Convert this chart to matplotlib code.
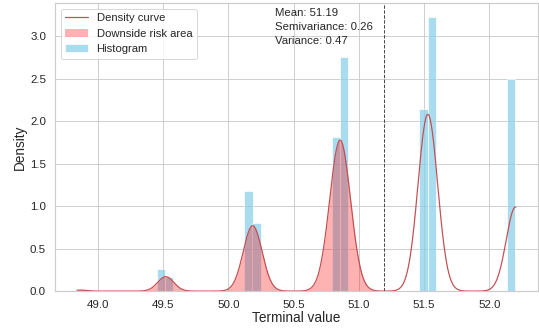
import numpy as np
import matplotlib
matplotlib.use("Agg")
import matplotlib.pyplot as plt
import seaborn as sns

# histogram bars (bin centers and density heights)
bin_centers = [48.878, 49.484, 49.545, 50.155, 50.216, 50.823, 50.886, 51.494, 51.559, 52.166]
bin_heights = [0.03, 0.255, 0.17, 1.18, 0.80, 1.815, 2.755, 2.148, 3.228, 2.50]
bin_width = 0.063

# density curve, described by its bumps
peak_centers = [48.86, 49.52, 50.186, 50.856, 51.528, 52.20]
peak_heights = [0.012, 0.17, 0.77, 1.777, 2.08, 0.99]
peak_widths = [0.05, 0.062, 0.072, 0.08, 0.075, 0.072]
curve_start, curve_end = 48.84, 52.203

mean_value = 51.19
semivariance = 0.26
variance = 0.47

sns.set_theme(style="whitegrid")
plt.rcParams['font.family'] = ['Liberation Sans', 'DejaVu Sans']

fig = plt.figure(figsize=(539 / 67.375, 335 / 67.375), dpi=67.375)
ax = fig.add_axes([0.102, 0.131, 0.896, 0.860])

ax.bar(bin_centers, bin_heights, width=bin_width, color="skyblue", alpha=0.7,
       edgecolor="white", linewidth=1, label="Histogram")

x = np.linspace(curve_start, curve_end, 800)
y = np.zeros_like(x)
for c, h, s in zip(peak_centers, peak_heights, peak_widths):
    y += h * np.exp(-(x - c) ** 2 / (2 * s ** 2))

ax.plot(x, y, color="#c44e52", linewidth=1.3, label="Density curve")
mask = x <= mean_value
ax.fill_between(x[mask], y[mask], color="red", alpha=0.3, linewidth=0,
                label="Downside risk area")
ax.axvline(mean_value, color="0.25", linestyle="--", linewidth=1)

ax.text(50.36, 3.335,
        f"Mean: {mean_value:.2f}\nSemivariance: {semivariance:.2f}\nVariance: {variance:.2f}",
        ha="left", va="top", fontsize=12.2, color="0.15", linespacing=1.5)

ax.set_xlabel("Terminal value", fontsize=14.5, labelpad=1)
ax.set_ylabel("Density", fontsize=14.5, labelpad=3)
ax.set_xticks(np.arange(49.0, 52.01, 0.5))
ax.set_yticks(np.arange(0.0, 3.01, 0.5))
ax.tick_params(labelsize=12.3)

handles, labels = ax.get_legend_handles_labels()
order = [labels.index("Density curve"), labels.index("Downside risk area"), labels.index("Histogram")]
ax.legend([handles[i] for i in order], [labels[i] for i in order], loc="upper left",
          fontsize=12)

fig.savefig("out.png", dpi=67.375)
